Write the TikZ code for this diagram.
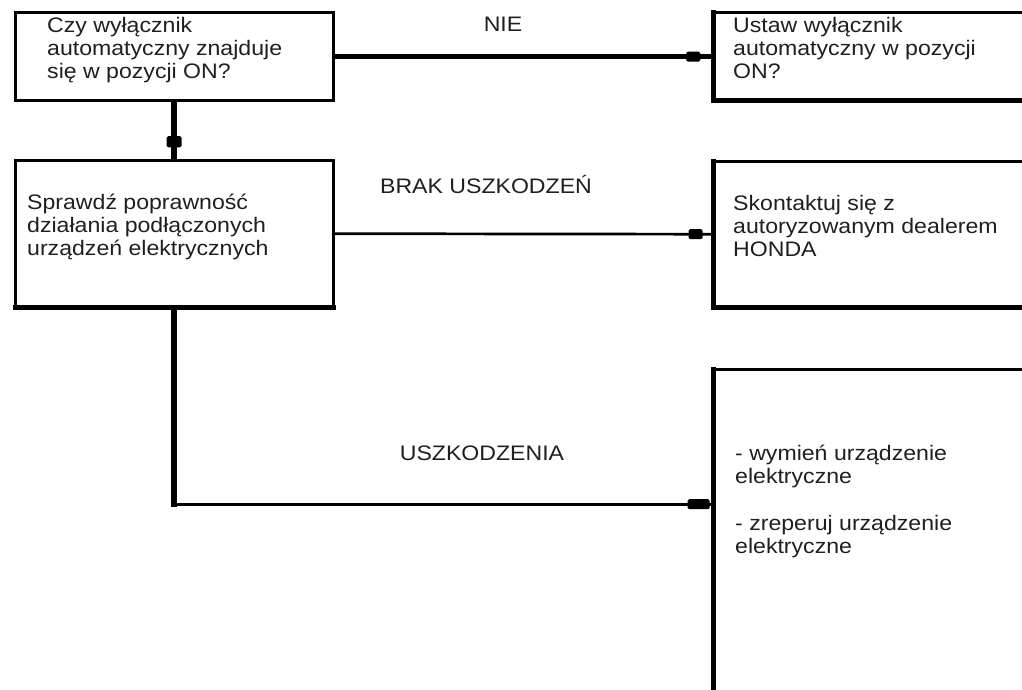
\documentclass[tikz,border=0pt]{standalone}
\usepackage{fontspec}
\setmainfont{Liberation Sans}[FakeStretch=1.1]
\begin{document}
\begin{tikzpicture}[x=1pt,y=-1pt,
  boxn/.style={rectangle,inner sep=0pt,anchor=north west},
  bordthin/.style={line width=3pt,line cap=rect},
  bordthick/.style={line width=5pt,line cap=rect},
  conthick/.style={line width=5.5pt},
  conthin/.style={line width=2.7pt},
  txt/.style={inner sep=0pt,anchor=base west,text=black!88,font=\fontsize{21}{23}\selectfont},
  lbl/.style={inner sep=0pt,anchor=base,text=black!88,font=\fontsize{21}{23}\selectfont},
  marker/.style={fill=black,rectangle,inner sep=0pt,minimum width=14pt,minimum height=10pt,rounded corners=1.5pt}]
\useasboundingbox (0,0) rectangle (1022,690);
\clip (0,0) rectangle (1022,690);
% left boxes
\node[boxn,minimum width=318pt,minimum height=87pt] (q1) at (15,13) {};
\node[boxn,minimum width=318pt,minimum height=147pt] (q2) at (15,160) {};
% right boxes
\node[boxn,minimum width=330pt,minimum height=87pt] (a1) at (713,13) {};
\node[boxn,minimum width=330pt,minimum height=146pt] (a2) at (713,161) {};
\node[boxn,minimum width=330pt,minimum height=270pt] (a3) at (713,369) {};
% borders
\draw[bordthin] (q1.north west) rectangle (q1.south east);
\draw[bordthin] (q2.south west) -- (q2.north west) -- (q2.north east) -- (q2.south east);
\draw[bordthick] (q2.south west) -- (q2.south east);
\draw[bordthin] (a1.north east) -- (a1.north west);
\draw[bordthick] (a1.north west) -- (a1.south west) -- (a1.south east);
\draw[bordthin] (a2.north east) -- (a2.north west);
\draw[bordthick] (a2.north west) -- (a2.south west) -- (a2.south east);
\draw[bordthin] (a3.north east) -- (a3.north west);
\draw[bordthick] (a3.north west) -- ++(0,340);
% texts
\node[txt] (t1) at (47,33) {\begin{tabular}[t]{@{}l@{}}Czy wyłącznik\\automatyczny znajduje\\się w pozycji ON?\end{tabular}};
\node[txt] (t2) at (733,33) {\begin{tabular}[t]{@{}l@{}}Ustaw wyłącznik\\automatyczny w pozycji\\ON?\end{tabular}};
\node[txt] (t3) at (27,209) {\begin{tabular}[t]{@{}l@{}}Sprawdź poprawność\\działania podłączonych\\urządzeń elektrycznych\end{tabular}};
\node[txt] (t4) at (733,210) {\begin{tabular}[t]{@{}l@{}}Skontaktuj się z\\autoryzowanym dealerem\\HONDA\end{tabular}};
\node[txt] (t5) at (735,460) {\begin{tabular}[t]{@{}l@{}}- wymień urządzenie\\elektryczne\\[24pt]- zreperuj urządzenie\\elektryczne\end{tabular}};
% labels
\node[lbl] (l1) at (503,32) {NIE};
\node[lbl] (l2) at (486,193) {BRAK USZKODZEŃ};
\node[lbl] (l3) at (482,460) {USZKODZENIA};
% connectors
\draw[conthick] (q1.east) -- (a1.west) node[marker,pos=1,anchor=east,xshift=-10pt] (m1) {};
\draw[conthick] (q1.south) -- (q2.north) node[marker,pos=1,anchor=south,yshift=10pt,minimum width=15pt,minimum height=11pt] (m2) {};
\draw[conthin] (q2.east) -- (a2.west) node[marker,pos=1,anchor=east,xshift=-9pt] (m3) {};
\draw[conthick,line cap=rect] (q2.south) -- (q2.south |- a3.west);
\draw[conthin] (q2.south |- a3.west) -- (a3.west) node[marker,pos=1,anchor=east,xshift=-2pt,minimum width=22pt] (m4) {};
\end{tikzpicture}
\end{document}
